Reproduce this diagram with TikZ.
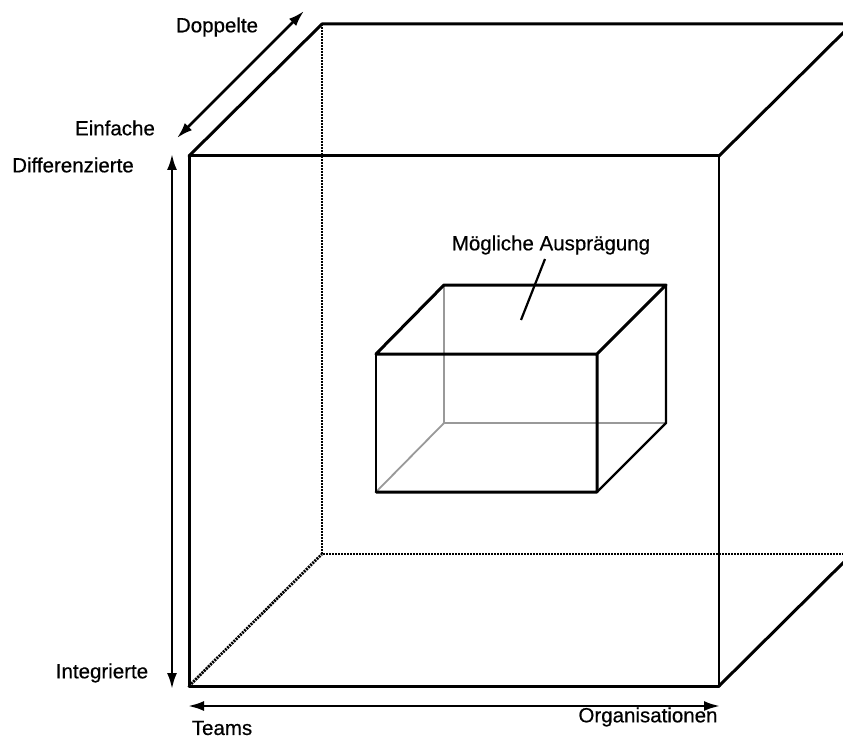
\documentclass[tikz,border=0pt]{standalone}
\usepackage{fontspec}
\setmainfont{Liberation Sans}[FakeBold=0.5]
\usetikzlibrary{arrows.meta}
\begin{document}
\begin{tikzpicture}[x=1pt,y=-1pt,
  lbl/.style={inner sep=0pt, font=\fontsize{20.5}{24}\selectfont},
  edgethick/.style={line width=3pt, line cap=round, line join=round},
  edgethin/.style={line width=2.2pt},
  hiddenedge/.style={line width=2.8pt, dash pattern=on 2pt off 1pt},
  greyedge/.style={line width=1.8pt, draw=black!40},
  axis/.style={line width=2.5pt, {Latex[length=16pt,width=10pt]}-{Latex[length=16pt,width=10pt]}},
  leader/.style={line width=2.2pt}]
\useasboundingbox (0,0) rectangle (843,738);
\fill[white] (0,0) rectangle (843,738);

% large cube corners (front face, then back face)
\coordinate (FTL) at (189,156);
\coordinate (FTR) at (719,156);
\coordinate (FBR) at (719,686);
\coordinate (FBL) at (189,686);
\coordinate (BTL) at (322,24);
\coordinate (BTR) at (852,24);
\coordinate (BBR) at (852,554);
\coordinate (BBL) at (322,554);

\begin{scope}
\clip (0,0) rectangle (843,738);
% hidden edges of the large cube
\draw[hiddenedge] (BTL) -- (BBL) -- (BBR);
\draw[hiddenedge] (FBL) -- (BBL);
% visible edges
\draw[edgethin] (FTR) -- (FBR);
\draw[edgethick] (FBL) -- (FTL) -- (FTR);
\draw[edgethick] (FBL) -- (FBR);
\draw[edgethick] (FTL) -- (BTL) -- (BTR);
\draw[edgethick] (FTR) -- (BTR);
\draw[edgethick] (FBR) -- (BBR);
\end{scope}

% small box corners
\coordinate (sFTL) at (376,354);
\coordinate (sFTR) at (597,354);
\coordinate (sFBR) at (597,492);
\coordinate (sFBL) at (376,492);
\coordinate (sBTL) at (444,285);
\coordinate (sBTR) at (666,285);
\coordinate (sBBR) at (666,423);
\coordinate (sBBL) at (444,423);

% hidden edges of the small box in grey
\draw[greyedge] (sBTL) -- (sBBL) -- (sBBR);
\draw[greyedge] (sFBL) -- (sBBL);
% visible edges
\draw[edgethin] (sFTL) -- (sFBL);
\draw[edgethin] (sBTR) -- (sBBR) -- (sFBR);
\draw[edgethick] (sFBL) -- (sFBR) -- (sFTR) -- (sFTL) -- (sBTL) -- (sBTR) -- (sFTR);

% label of the small box with leader line
\node[lbl] (auspraegung) at (551,245) {Mögliche Ausprägung};
\coordinate (leadEnd) at (521,320);
\draw[leader] (545,259) -- (leadEnd);

% axes
\coordinate (dA) at (177,138);
\coordinate (dB) at (304,11);
\draw[axis] (dA) -- (dB);
\coordinate (vA) at (172,154);
\coordinate (vB) at (172,689);
\draw[axis] (vA) -- (vB);
\coordinate (hA) at (188,706);
\coordinate (hB) at (720,706);
\draw[axis] (hA) -- (hB);

% axis labels
\node[lbl] (doppelte) at (217,27) {Doppelte};
\node[lbl] (einfache) at (115,128) {Einfache};
\node[lbl] (differenzierte) at (73,165) {Differenzierte};
\node[lbl] (integrierte) at (102,673) {Integrierte};
\node[lbl] (teams) at (222,728) {Teams};
\node[lbl] (organisationen) at (648,717) {Organisationen};
\end{tikzpicture}
\end{document}
